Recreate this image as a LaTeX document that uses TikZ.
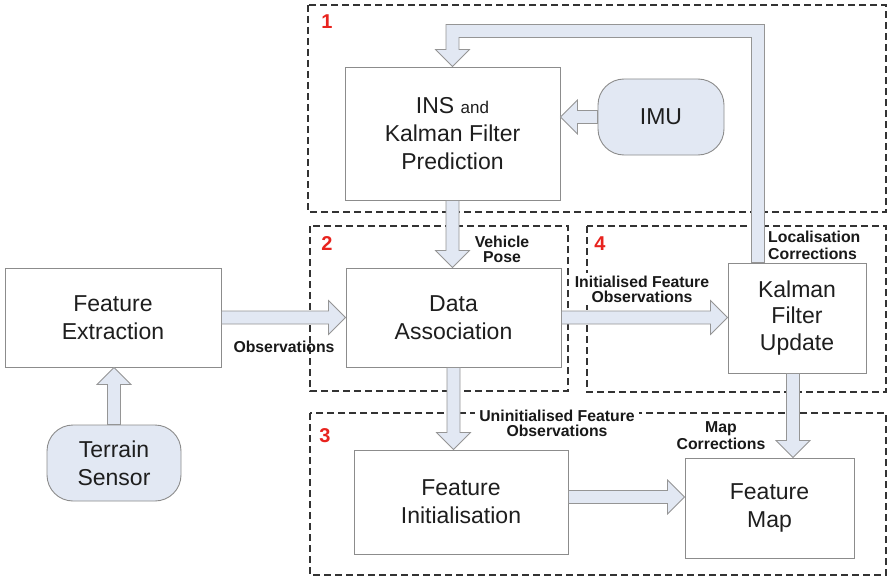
\documentclass[tikz,border=0pt]{standalone}
\usepackage{fontspec}
\setmainfont{Liberation Sans}
\usetikzlibrary{calc}
\definecolor{afill}{HTML}{E2E8F3}
\definecolor{aedge}{HTML}{959595}
\definecolor{bedge}{HTML}{8C8C8C}
\definecolor{txt}{HTML}{1E1E1E}
\definecolor{rednum}{HTML}{E8231E}
\def\sw{6.5pt}
\def\hw{17pt}
\def\hl{17pt}
\tikzset{
  blk/.style={draw=aedge, fill=afill, line width=0.8pt, line join=miter},
  box/.style={draw=bedge, fill=white, line width=0.9pt, align=center, text=txt,
    inner sep=2pt, font=\fontsize{23}{28}\selectfont},
  rbox/.style={box, fill=afill, rounded corners=26pt},
  region/.style={draw=black!80, line width=1.3pt, dash pattern=on 7pt off 4pt},
  lbl/.style={font=\bfseries\fontsize{15.8}{15}\selectfont, text=black!90, align=center, inner sep=1pt},
  wlbl/.style={lbl, fill=white},
  num/.style={font=\bfseries\fontsize{20}{20}\selectfont, text=rednum, inner sep=0pt}
}
\newcommand\rarr[2]{\draw[blk] let \p1=(#1),\p2=(#2) in
  (\x1,\y1+\sw) -- (\x2-\hl,\y1+\sw) -- (\x2-\hl,\y1+\hw) -- (\x2,\y1) --
  (\x2-\hl,\y1-\hw) -- (\x2-\hl,\y1-\sw) -- (\x1,\y1-\sw) -- cycle;}
\newcommand\larr[2]{\draw[blk] let \p1=(#1),\p2=(#2) in
  (\x1,\y1+\sw) -- (\x2+\hl,\y1+\sw) -- (\x2+\hl,\y1+\hw) -- (\x2,\y1) --
  (\x2+\hl,\y1-\hw) -- (\x2+\hl,\y1-\sw) -- (\x1,\y1-\sw) -- cycle;}
\newcommand\darr[2]{\draw[blk] let \p1=(#1),\p2=(#2) in
  (\x1+\sw,\y1) -- (\x1+\sw,\y2+\hl) -- (\x1+\hw,\y2+\hl) -- (\x1,\y2) --
  (\x1-\hw,\y2+\hl) -- (\x1-\sw,\y2+\hl) -- (\x1-\sw,\y1) -- cycle;}
\newcommand\uarr[2]{\draw[blk] let \p1=(#1),\p2=(#2) in
  (\x1+\sw,\y1) -- (\x1+\sw,\y2-\hl) -- (\x1+\hw,\y2-\hl) -- (\x1,\y2) --
  (\x1-\hw,\y2-\hl) -- (\x1-\sw,\y2-\hl) -- (\x1-\sw,\y1) -- cycle;}
\begin{document}
\begin{tikzpicture}[x=1pt,y=-1pt]
\useasboundingbox (0,0) rectangle (889,578);
\fill[white] (0,0) rectangle (889,578);

% regions
\draw[region] (308,5) rectangle (886,212);
\draw[region] (310,226) rectangle (568,391);
\draw[region] (587,226) rectangle (886,392);
\draw[region] (310,413) rectangle (886,575);
\node[num] (n1) at (327,22) {1};
\node[num] (n2) at (327,244) {2};
\node[num] (n4) at (600,244) {4};
\node[num] (n3) at (325,436) {3};

% boxes
\node[box, minimum width=216pt, minimum height=99pt] (FE) at (113,317.5) {Feature\\Extraction};
\node[box, minimum width=215pt, minimum height=99pt] (DA) at (453.5,317.5) {Data\\Association};
\node[box, minimum width=215pt, minimum height=133pt] (INS) at (452.5,133.5)
  {INS {\fontsize{17}{28}\selectfont and}\\Kalman Filter\\Prediction};
\node[rbox, minimum width=126pt, minimum height=76pt] (IMU) at (661,117) {IMU};
\node[box, minimum width=138pt, minimum height=110pt, font=\fontsize{23}{26.5}\selectfont] (KF) at (797,318) {Kalman\\Filter\\Update};
\node[box, minimum width=214pt, minimum height=104pt] (FI) at (461,502) {Feature\\Initialisation};
\node[box, minimum width=169pt, minimum height=100pt] (FM) at (769.5,508) {Feature\\Map};
\node[rbox, minimum width=134pt, minimum height=76pt] (TS) at (114,463) {Terrain\\Sensor};

% labels
\node[lbl] (lobs) at (284,347) {Observations};
\node[lbl] (lvp) at (502,249) {Vehicle\\Pose};
\node[wlbl, inner ysep=3pt] (lifo) at (642,289) {Initialised Feature\\Observations};
\node[lbl, align=left, font=\bfseries\fontsize{15.8}{17}\selectfont, anchor=west] (llc) at (767,245) {Localisation\\Corrections};
\node[wlbl, inner xsep=4pt] (lufo) at (557,423) {Uninitialised Feature\\Observations};
\node[lbl, font=\bfseries\fontsize{15.8}{17}\selectfont] (lmc) at (721,435.5) {Map\\Corrections};

% arrows
\coordinate (fbc) at (758,31);
\coordinate (fbs) at (KF.north -| fbc);
\draw[blk] let \p1=(fbs), \p2=(fbc), \p3=(INS.north) in
  (\x1+\sw,\y1) -- (\x1+\sw,\y2+\sw) -- (\x3-\sw,\y2+\sw) -- (\x3-\sw,\y3+\hl) --
  (\x3-\hw,\y3+\hl) -- (\x3,\y3) -- (\x3+\hw,\y3+\hl) -- (\x3+\sw,\y3+\hl) --
  (\x3+\sw,\y2-\sw) -- (\x1-\sw,\y2-\sw) -- (\x1-\sw,\y1) -- cycle;
\larr{IMU.west}{INS.east}
\darr{INS.south}{DA.north}
\rarr{FE.east}{DA.west}
\rarr{DA.east}{KF.west}
\darr{DA.south}{FI.north}
\coordinate (mc) at (793,0);
\darr{KF.south -| mc}{FM.north}
\coordinate (fifm) at (0,497);
\rarr{FI.east |- fifm}{FM.west}
\uarr{TS.north}{FE.south}
\end{tikzpicture}
\end{document}
